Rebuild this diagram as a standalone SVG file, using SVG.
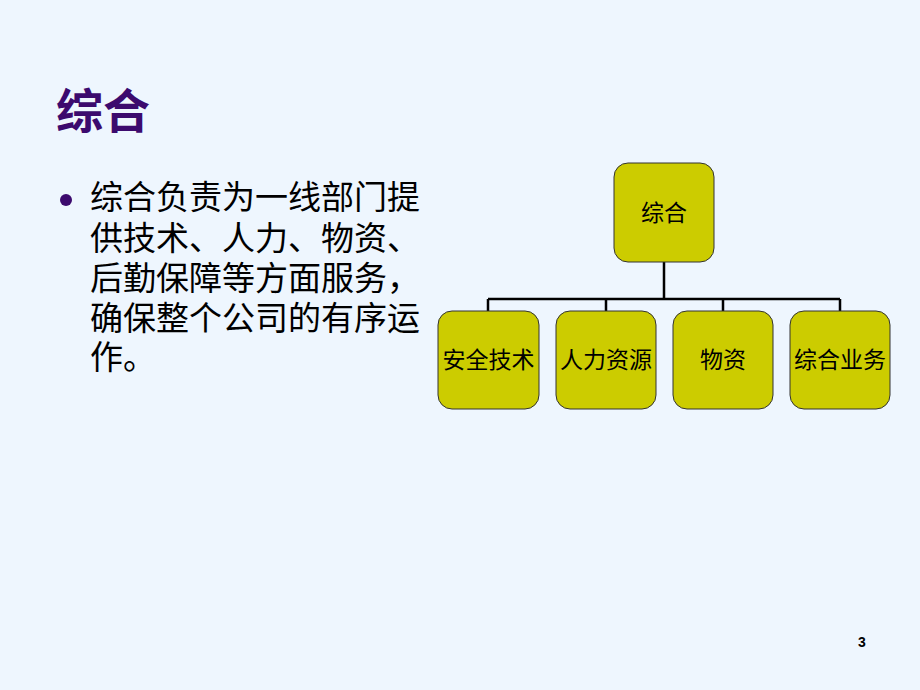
<svg xmlns="http://www.w3.org/2000/svg" width="920" height="690" viewBox="0 0 920 690">
<style>
.bg{fill:#eef6fe}
.box{fill:#cccc00;stroke:#333333;stroke-width:1}
.lbl{font-family:"Noto Sans CJK SC","Liberation Sans",sans-serif;font-size:23px;fill:#000;text-anchor:middle}
.body{font-family:"Noto Sans CJK SC","Liberation Sans",sans-serif;font-size:33px;fill:#000}
.conn{stroke:#000;stroke-width:2.5;fill:none}
</style>
<rect class="bg" x="0" y="0" width="920" height="690"/>
<text x="56" y="128" font-family="'Noto Sans CJK SC','Liberation Sans',sans-serif" font-size="47" font-weight="bold" fill="#3c0a6e">综合</text>
<circle cx="66" cy="200" r="6" fill="#3c0a6e"/>
<text class="body" x="90" y="209"><tspan x="90" y="209">综合负责为一线部门提</tspan><tspan x="90" y="250">供技术、人力、物资、</tspan><tspan x="90" y="290">后勤保障等方面服务，</tspan><tspan x="90" y="330">确保整个公司的有序运</tspan><tspan x="90" y="369">作。</tspan></text>
<g id="connectors">
<path class="conn" d="M664 262V299M488 299H840M488 299V311M606 299V311M723 299V311M840 299V311"/>
</g>
<g id="node-top"><rect class="box" x="614" y="163" width="100" height="99" rx="14"/><text class="lbl" x="664" y="221">综合</text></g>
<g id="node-1"><rect class="box" x="438" y="311" width="101" height="98" rx="14"/><text class="lbl" x="488.5" y="368">安全技术</text></g>
<g id="node-2"><rect class="box" x="556" y="311" width="100" height="98" rx="14"/><text class="lbl" x="606" y="368">人力资源</text></g>
<g id="node-3"><rect class="box" x="673" y="311" width="100" height="98" rx="14"/><text class="lbl" x="723" y="368">物资</text></g>
<g id="node-4"><rect class="box" x="790" y="311" width="100" height="98" rx="14"/><text class="lbl" x="840" y="368">综合业务</text></g>
<text x="862" y="647" font-family="'Liberation Sans',sans-serif" font-size="14" font-weight="bold" fill="#000" text-anchor="middle">3</text>
</svg>
